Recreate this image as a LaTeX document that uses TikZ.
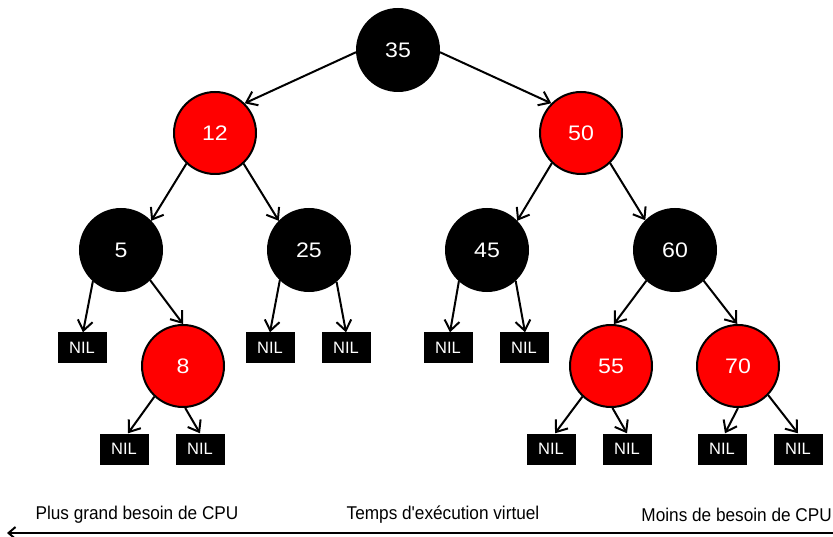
\documentclass[tikz,border=0pt]{standalone}
\usepackage{fontspec}
\setmainfont{Liberation Sans}
\newfontfamily\captionfont[FakeStretch=0.93]{Liberation Sans}
\newfontfamily\numfont[FakeStretch=1.1]{Liberation Sans}
\usetikzlibrary{arrows.meta}
\definecolor{rbred}{HTML}{FF0000}
\tikzset{
  rbnode/.style={circle,draw=black,line width=2pt,minimum size=82pt,inner sep=0pt,text=white,font=\numfont\fontsize{21}{24}\selectfont},
  blacknode/.style={rbnode,fill=black},
  rednode/.style={rbnode,fill=rbred},
  nilbox/.style={rectangle,fill=black,text=white,minimum width=49pt,minimum height=31pt,inner sep=0pt,font=\fontsize{16.5}{19}\selectfont},
  edge/.style={line width=2pt,-{Straight Barb[length=10pt,width=15pt,line width=2pt]}},
  caption/.style={font=\captionfont\fontsize{18.5}{21}\selectfont,inner sep=0pt}
}
\begin{document}
\begin{tikzpicture}[x=1pt,y=-1pt]
\useasboundingbox (0,0) rectangle (833,537);
\node[blacknode] (n35) at (398,50) {35};
\node[rednode] (n12) at (215,133) {12};
\node[rednode] (n50) at (581,133) {50};
\node[blacknode] (n5) at (121,250) {5};
\node[blacknode] (n25) at (309,250) {25};
\node[blacknode] (n45) at (487,250) {45};
\node[blacknode] (n60) at (675,250) {60};
\node[rednode] (n8) at (183,366) {8};
\node[rednode] (n55) at (611,366) {55};
\node[rednode] (n70) at (738,366) {70};
\node[nilbox] (nil1) at (82,348) {NIL};
\node[nilbox] (nil2) at (270,348) {NIL};
\node[nilbox] (nil3) at (346,348) {NIL};
\node[nilbox] (nil4) at (448,348) {NIL};
\node[nilbox] (nil5) at (524,348) {NIL};
\node[nilbox] (nil6) at (124,449) {NIL};
\node[nilbox] (nil7) at (200,449) {NIL};
\node[nilbox] (nil8) at (551,449) {NIL};
\node[nilbox] (nil9) at (627,449) {NIL};
\node[nilbox] (nil10) at (722,449) {NIL};
\node[nilbox] (nil11) at (798,449) {NIL};
\draw[edge] (n35.183) -- (n12.45);
\draw[edge] (n35.357) -- (n50.135);
\draw[edge] (n12.227) -- (n5.44);
\draw[edge] (n12.313) -- (n25.136);
\draw[edge] (n50.226) -- (n45.44);
\draw[edge] (n50.314) -- (n60.135);
\draw[edge] (n5.228) -- ([xshift=1pt]nil1.north);
\draw[edge] (n5.314) -- (n8.north);
\draw[edge] (n25.226) -- (nil2.north);
\draw[edge] (n25.311) -- (nil3.north);
\draw[edge] (n45.228) -- ([xshift=2pt]nil4.north);
\draw[edge] (n45.313) -- ([xshift=1pt]nil5.north);
\draw[edge] (n60.227) -- (n55.86);
\draw[edge] (n60.313) -- (n70.91);
\draw[edge] (n8.227) -- ([xshift=4pt]nil6.north);
\draw[edge] (n8.273) -- (nil7.north);
\draw[edge] (n55.227) -- ([xshift=4pt]nil8.north);
\draw[edge] (n55.272) -- (nil9.north);
\draw[edge] (n70.270) -- ([xshift=3pt]nil10.north);
\draw[edge] (n70.316) -- (nil11.north);
\node[caption] (c1) at (137,515) {Plus grand besoin de CPU};
\node[caption] (c2) at (443,515) {Temps d'exécution virtuel};
\node[caption,anchor=east] (c3) at (832,515) {Moins de besoin de CPU};
\coordinate (aR) at (833,533);
\coordinate (aL) at (7,533);
\draw[line width=2.5pt,-{Straight Barb[length=7pt,width=12pt,line width=2pt]}] (aR) -- (aL);
\end{tikzpicture}
\end{document}
